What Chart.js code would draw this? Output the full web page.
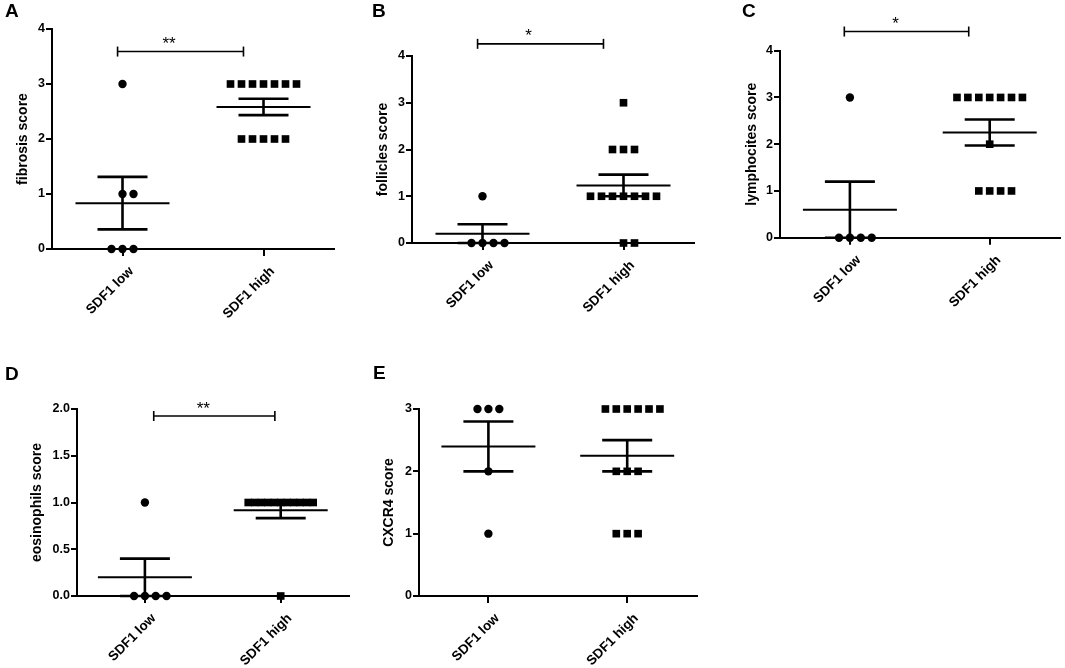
<!DOCTYPE html>
<html>
<head>
<meta charset="utf-8">
<script src="https://cdn.jsdelivr.net/npm/chart.js@4.4.0/dist/chart.umd.min.js"></script>
<style>
  body { margin: 0; background: #fff; }
  #page { position: relative; width: 1065px; height: 668px; overflow: hidden; }
  .panel { position: absolute; }
</style>
</head>
<body>
<div id="page"></div>
<script>
const categories = ['SDF1 low', 'SDF1 high'];
const panelLetters = ['A', 'B', 'C', 'D', 'E'];
const yTitles = ['fibrosis score', 'follicles score', 'lymphocites score', 'eosinophils score', 'CXCR4 score'];
const sigLabels = ['**', '*', '*', '**', ''];

// single scores
const fibrosisLow = [3, 1, 1, 0, 0, 0];
const fibrosisHigh = [3, 3, 3, 3, 3, 3, 3, 2, 2, 2, 2, 2];
const folliclesLow = [1, 0, 0, 0, 0];
const folliclesHigh = [3, 2, 2, 2, 1, 1, 1, 1, 1, 1, 1, 0, 0];
const lymphoLow = [3, 0, 0, 0, 0];
const lymphoHigh = [3, 3, 3, 3, 3, 3, 3, 2, 1, 1, 1, 1];
const eosinoLow = [1, 0, 0, 0, 0];
const eosinoHigh = [1, 1, 1, 1, 1, 1, 1, 1, 1, 1, 1, 0];
const cxcr4Low = [3, 3, 3, 2, 1];
const cxcr4High = [3, 3, 3, 3, 3, 3, 2, 2, 2, 1, 1, 1];

const yMax = [4, 4, 4, 2, 3];
const yStep = [1, 1, 1, 0.5, 1];
const yDecimals = [0, 0, 0, 1, 0];

const groups = [
  [fibrosisLow, fibrosisHigh],
  [folliclesLow, folliclesHigh],
  [lymphoLow, lymphoHigh],
  [eosinoLow, eosinoHigh],
  [cxcr4Low, cxcr4High]
];

// where each panel sits on the page (box = canvas, area = plot area, page px)
const layoutCfg = [
  { box: [4, 4, 336, 326],   area: [52, 29, 334, 249],      titlePad: 10.6, letter: [5, 17],   bracket: [-0.035, 0.858, 3.59], starX: 0.33 },
  { box: [371, 4, 329, 326], area: [412, 56, 694, 243],     titlePad: 3.6,  letter: [372, 17], bracket: [-0.035, 0.858, 4.26], starX: 0.326 },
  { box: [741, 4, 324, 326], area: [780, 50.7, 1062, 237.7], titlePad: 2.6, letter: [742, 17], bracket: [-0.04, 0.85, 4.41], starX: 0.326 },
  { box: [4, 362, 350, 306], area: [77, 409, 353, 596],     titlePad: 24.6, letter: [5, 380],  bracket: [0.065, 0.957, 1.925], starX: 0.43 },
  { box: [372, 362, 330, 306], area: [419, 409, 699, 596],  titlePad: 8.6,  letter: [373, 379], bracket: null, starX: 0 }
];

const FONT = '"Liberation Sans", Arial, sans-serif';

function mean(a) {
  return a.reduce((s, v) => s + v, 0) / a.length;
}

function sem(a) {
  const m = mean(a);
  const v = a.reduce((s, x) => s + (x - m) * (x - m), 0) / (a.length - 1);
  return Math.sqrt(v / a.length);
}

// lay equal scores side by side, like a column scatter
function spread(vals, cat, pxPerUnit) {
  const counts = {};
  vals.forEach(v => counts[v] = (counts[v] || 0) + 1);
  const pts = [];
  Object.keys(counts).forEach(k => {
    const n = counts[k];
    const pitch = n > 1 ? Math.min(11, 66 / (n - 1)) : 0;
    const shift = n > 7 ? (n - 1) / 2 : Math.floor((n - 1) / 2);
    for (let i = 0; i < n; i++) {
      pts.push({ x: cat + (i - shift) * pitch / pxPerUnit, y: Number(k) });
    }
  });
  return pts;
}

function seg(ctx, x1, y1, x2, y2) {
  ctx.beginPath();
  ctx.moveTo(x1, y1);
  ctx.lineTo(x2, y2);
  ctx.stroke();
}

const decoPlugin = {
  id: 'deco',
  beforeDatasetsDraw(chart, args, o) {
    const { ctx, scales: { x, y } } = chart;
    ctx.save();
    ctx.strokeStyle = '#000';
    o.groups.forEach((vals, i) => {
      const m = mean(vals), s = sem(vals);
      const cx = x.getPixelForValue(i);
      const ym = y.getPixelForValue(m);
      const yt = y.getPixelForValue(m + s);
      const yb = y.getPixelForValue(m - s);
      ctx.lineWidth = 2;
      seg(ctx, cx - 47, ym, cx + 47, ym);
      ctx.lineWidth = 2.6;
      seg(ctx, cx, yt, cx, yb);
      seg(ctx, cx - 25, yt, cx + 25, yt);
      seg(ctx, cx - 25, yb, cx + 25, yb);
    });
    ctx.restore();
  },
  afterDraw(chart, args, o) {
    const { ctx, scales: { x, y } } = chart;
    ctx.save();
    ctx.fillStyle = '#000';
    ctx.strokeStyle = '#000';
    // panel letter
    ctx.font = 'bold 19px ' + FONT;
    ctx.textAlign = 'left';
    ctx.textBaseline = 'alphabetic';
    ctx.fillText(o.letter, o.letterPos[0], o.letterPos[1]);
    // significance bracket
    if (o.bracket) {
      const x1 = x.getPixelForValue(o.bracket[0]);
      const x2 = x.getPixelForValue(o.bracket[1]);
      const yb = y.getPixelForValue(o.bracket[2]);
      ctx.lineWidth = 1.6;
      seg(ctx, x1, yb, x2, yb);
      seg(ctx, x1, yb - 5, x1, yb + 5);
      seg(ctx, x2, yb - 5, x2, yb + 5);
      ctx.font = '17px ' + FONT;
      ctx.textAlign = 'center';
      ctx.fillText(o.sig, x.getPixelForValue(o.starX), yb - 2.5);
    }
    ctx.restore();
  }
};

const page = document.getElementById('page');

layoutCfg.forEach((cfg, p) => {
  const [bl, bt, bw, bh] = cfg.box;
  const [al, at, ar, ab] = cfg.area;
  const div = document.createElement('div');
  div.className = 'panel';
  div.style.left = bl + 'px';
  div.style.top = bt + 'px';
  div.style.width = bw + 'px';
  div.style.height = bh + 'px';
  const canvas = document.createElement('canvas');
  div.appendChild(canvas);
  page.appendChild(div);

  const pxPerUnit = (ar - al) / 2;
  const [low, high] = groups[p];
  const yW = al - bl;
  const xH = bt + bh - ab;

  new Chart(canvas, {
    type: 'scatter',
    data: {
      datasets: [
        {
          label: categories[0],
          data: spread(low, 0, pxPerUnit),
          pointStyle: 'circle',
          pointRadius: 4.2,
          pointBorderWidth: 0,
          backgroundColor: '#000',
          borderColor: '#000',
          clip: false
        },
        {
          label: categories[1],
          data: spread(high, 1, pxPerUnit),
          pointStyle: 'rect',
          pointRadius: 5.4,
          pointBorderWidth: 0,
          backgroundColor: '#000',
          borderColor: '#000',
          clip: false
        }
      ]
    },
    options: {
      responsive: true,
      maintainAspectRatio: false,
      animation: false,
      events: [],
      layout: { padding: { top: at - bt, right: bl + bw - ar, left: 0, bottom: 0 } },
      plugins: {
        legend: { display: false },
        tooltip: { enabled: false },
        deco: {
          groups: [low, high],
          letter: panelLetters[p],
          letterPos: [cfg.letter[0] - bl, cfg.letter[1] - bt],
          bracket: cfg.bracket,
          sig: sigLabels[p],
          starX: cfg.starX
        }
      },
      scales: {
        x: {
          type: 'linear',
          min: -0.5,
          max: 1.5,
          afterBuildTicks: s => { s.ticks = [{ value: 0 }, { value: 1 }]; },
          afterFit: s => { s.height = xH; s.paddingLeft = 0; s.paddingRight = 0; },
          grid: { drawOnChartArea: false, drawTicks: true, tickLength: 7, color: '#000', lineWidth: 2 },
          border: { display: true, color: '#000', width: 2 },
          ticks: {
            autoSkip: false,
            minRotation: 45,
            maxRotation: 45,
            labelOffset: 9,
            padding: 7.5,
            color: '#000',
            font: { family: FONT, size: 13.5, weight: 'bold' },
            callback: (v, i) => categories[i]
          }
        },
        y: {
          min: 0,
          max: yMax[p],
          afterFit: s => { s.width = yW; s.paddingTop = 0; s.paddingBottom = 0; },
          grid: { drawOnChartArea: false, drawTicks: true, tickLength: 6, color: '#000', lineWidth: 2 },
          border: { display: true, color: '#000', width: 2 },
          ticks: {
            stepSize: yStep[p],
            padding: 1,
            color: '#000',
            font: { family: FONT, size: 12.5, weight: 'bold' },
            callback: v => v.toFixed(yDecimals[p])
          },
          title: {
            display: true,
            text: yTitles[p],
            color: '#000',
            padding: { top: cfg.titlePad, bottom: 0 },
            font: { family: FONT, size: 14, weight: 'bold' }
          }
        }
      }
    },
    plugins: [decoPlugin]
  });
});
</script>
</body>
</html>
